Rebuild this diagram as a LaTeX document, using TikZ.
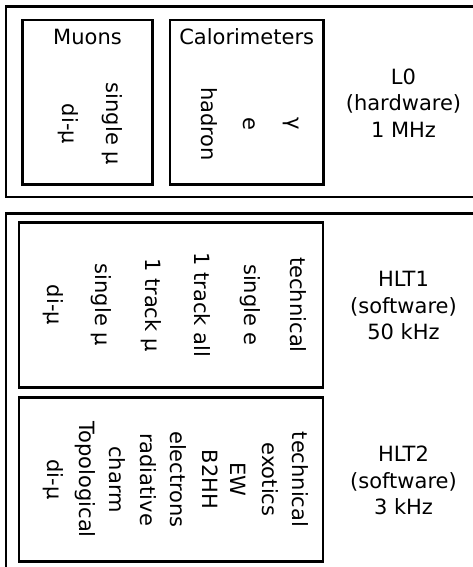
\documentclass[tikz,border=0pt]{standalone}
\usepackage{fontspec}
\setmainfont{DejaVu Sans}
\usepackage{tikz}
\usetikzlibrary{positioning}
\tikzstyle{frame} = [draw, line width=2.7pt]
\tikzstyle{box} = [rectangle, draw, line width=2.5pt, inner sep=0pt]
\tikzstyle{head} = [anchor=base, inner sep=0pt]
\tikzstyle{item} = [rotate=-90, inner sep=0pt, text height=.76em, text depth=.24em]
\tikzstyle{rate} = [align=center, inner sep=0pt]

\begin{document}
\begin{tikzpicture}[x=1pt, y=-1pt, font=\fontsize{21}{26.5}\selectfont]
  \useasboundingbox (0,0) rectangle (472,567);
  % Level frames
  \draw [frame] (6,6.5) rectangle (490,197);
  \draw [frame] (6,213.5) rectangle (490,590);

  % L0
  \node [box, minimum width=129.6pt, minimum height=164.3pt] (muons) at (87.5,102.2) {};
  \node [box, minimum width=153.3pt, minimum height=164.3pt] (calo) at (246.7,102.2) {};
  \node [head] (muonshead) at ([yshift=-25.6pt]muons.north) {Muons};
  \node [head] (calohead) at ([yshift=-25.6pt]calo.north) {Calorimeters};
  \foreach \x/\t [count=\i] in {65/di-μ, 109/single μ}
    \node [item] (mu-\i) at (\x,124) {\t};
  \foreach \x/\t [count=\i] in {204/hadron, 246/e, 290/γ}
    \node [item] (calo-\i) at (\x,124) {\t};
  \node [rate] (l0) at (403.5,103) {L0\\(hardware)\\1 MHz};

  % HLT1
  \node [box, minimum width=303.7pt, minimum height=165pt] (hlt1box) at (170.9,305.2) {};
  \foreach \x/\t [count=\i] in {293/technical, 247/single e, 197/1 track all,
                                148/1 track μ, 98/single μ, 50/di-μ}
    \node [item] (hlt1-\i) at (\x,305) {\t};
  \node [rate] (hlt1) at (403.5,305.5) {HLT1\\(software)\\50 kHz};

  % HLT2
  \node [box, minimum width=304pt, minimum height=164.2pt] (hlt2box) at (171,479.4) {};
  \foreach \x/\t [count=\i] in {295/technical, 265/exotics, 233/EW, 205/B2HH,
                                173/electrons, 143/radiative, 112/charm,
                                82/Topological, 50/di-μ}
    \node [item] (hlt2-\i) at (\x,479.5) {\t};
  \node [rate] (hlt2) at (403.5,480.5) {HLT2\\(software)\\3 kHz};
\end{tikzpicture}
\end{document}
